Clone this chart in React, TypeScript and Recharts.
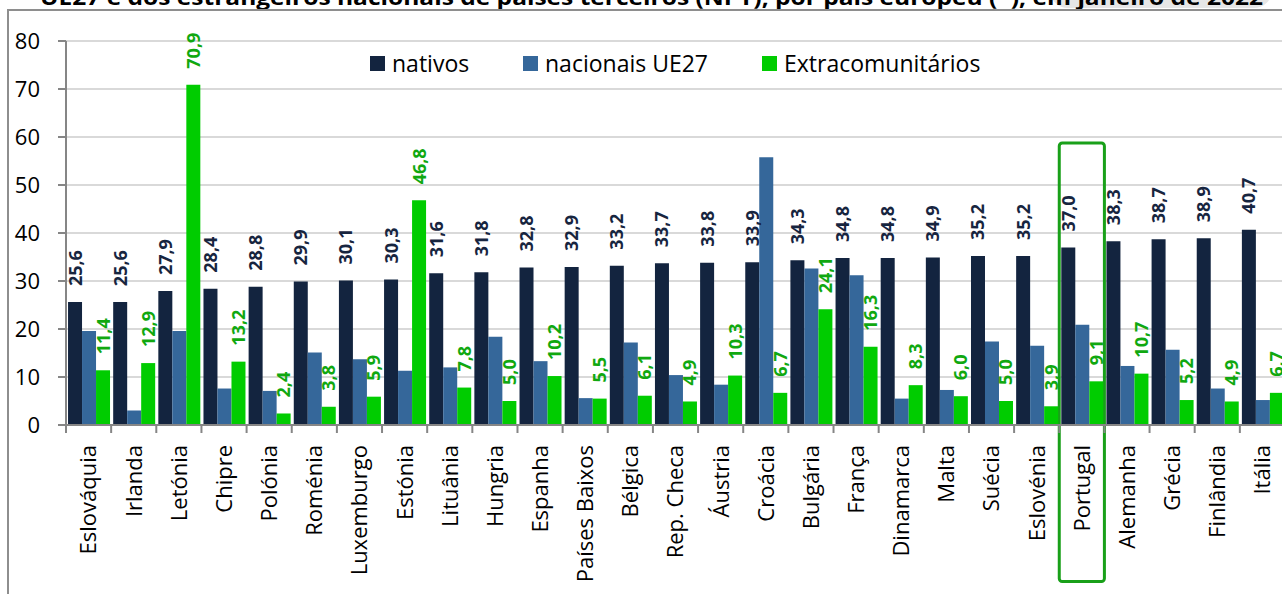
import React from 'react';
import { BarChart, Bar, XAxis, YAxis, CartesianGrid, Legend, LabelList, ReferenceArea } from 'recharts';

const countries = [
  'Eslováquia', 'Irlanda', 'Letónia', 'Chipre', 'Polónia', 'Roménia', 'Luxemburgo', 'Estónia',
  'Lituânia', 'Hungria', 'Espanha', 'Países Baixos', 'Bélgica', 'Rep. Checa', 'Áustria', 'Croácia',
  'Bulgária', 'França', 'Dinamarca', 'Malta', 'Suécia', 'Eslovénia', 'Portugal', 'Alemanha',
  'Grécia', 'Finlândia', 'Itália',
];
const nativos = [
  25.6, 25.6, 27.9, 28.4, 28.8, 29.9, 30.1, 30.3, 31.6, 31.8, 32.8, 32.9, 33.2, 33.7, 33.8, 33.9,
  34.3, 34.8, 34.8, 34.9, 35.2, 35.2, 37.0, 38.3, 38.7, 38.9, 40.7,
];
const nacionaisUE27 = [
  19.6, 3.0, 19.6, 7.6, 7.1, 15.1, 13.7, 11.3, 12.0, 18.4, 13.3, 5.6, 17.2, 10.4, 8.4, 55.8,
  32.6, 31.2, 5.5, 7.3, 17.4, 16.5, 20.9, 12.3, 15.7, 7.6, 5.2,
];
const extracomunitarios = [
  11.4, 12.9, 70.9, 13.2, 2.4, 3.8, 5.9, 46.8, 7.8, 5.0, 10.2, 5.5, 6.1, 4.9, 10.3, 6.7,
  24.1, 16.3, 8.3, 6.0, 5.0, 3.9, 9.1, 10.7, 5.2, 4.9, 6.7,
];
const yTicks = [0, 10, 20, 30, 40, 50, 60, 70, 80];
const seriesNames = ['nativos', 'nacionais UE27', 'Extracomunitários'];
const highlighted = 'Portugal';
const titleText =
  'UE27 e dos estrangeiros nacionais de países terceiros (NPT), por país europeu (*), em janeiro de 2022';

const data = countries.map((c, i) => ({
  country: c,
  nativos: nativos[i],
  ue27: nacionaisUE27[i],
  extra: extracomunitarios[i],
}));

const FONT = "'Open Sans', sans-serif";
const C_NAT = '#13243f';
const C_UE = '#35679a';
const C_EXT = '#00cc00';
const C_EXT_LABEL = '#10a810';
const C_AXIS = '#868686';

const fmt = (v: number) => v.toFixed(1).replace('.', ',');

const makeLabel = (color: string) => (props: any) => {
  const { x, y, width, value } = props;
  const cx = Number(x) + Number(width) / 2;
  const ty = Number(y) - 16;
  return (
    <text
      x={cx}
      y={ty}
      dy="0.36em"
      transform={`rotate(-90, ${cx}, ${ty})`}
      textAnchor="start"
      fill={color}
      fontFamily={FONT}
      fontWeight="bold"
      fontSize={18}
    >
      {fmt(Number(value))}
    </text>
  );
};

const XTick = (props: any) => {
  const { x, y, payload } = props;
  const off = payload && payload.offset != null ? payload.offset : 0;
  const axisY = y - 20;
  return (
    <g>
      <line x1={x - off} x2={x - off} y1={axisY} y2={axisY + 8} stroke={C_AXIS} strokeWidth={2} />
      <text
        x={x}
        y={y}
        dy="0.36em"
        transform={`rotate(-90, ${x}, ${y})`}
        textAnchor="end"
        fill="#000"
        fontFamily={FONT}
        fontSize={22}
      >
        {payload.value}
      </text>
    </g>
  );
};

const legendOffsets = [0, 153, 392];
const renderLegend = (props: any) => {
  const payload = [...(props.payload || [])].sort(
    (a: any, b: any) => seriesNames.indexOf(a.value) - seriesNames.indexOf(b.value)
  );
  return (
    <div style={{ position: 'relative', width: 640, height: 24, fontFamily: FONT, fontSize: 23, color: '#000' }}>
      {payload.map((e: any, i: number) => (
        <div
          key={i}
          style={{
            position: 'absolute',
            left: legendOffsets[i],
            top: 0,
            height: 24,
            display: 'flex',
            alignItems: 'center',
            whiteSpace: 'nowrap',
          }}
        >
          <span style={{ display: 'inline-block', width: 15, height: 15, background: e.color, marginRight: 7 }} />
          <span style={{ lineHeight: '24px' }}>{e.value}</span>
        </div>
      ))}
    </div>
  );
};

export default function App() {
  return (
    <div
      style={{
        position: 'fixed',
        left: 0,
        top: 0,
        width: 1282,
        height: 594,
        overflow: 'hidden',
        background: '#fff',
      }}
    >
      <svg width={1282} height={14} style={{ position: 'absolute', left: 0, top: 0 }}>
        <rect x={1050} y={-30} width={222} height={38} rx={18} fill="#e6e6e6" />
        <text
          x={40}
          y={5}
          textLength={1223}
          lengthAdjust="spacingAndGlyphs"
          fontFamily={FONT}
          fontWeight="bold"
          fontSize={22}
          fill="#000"
        >
          {titleText}
        </text>
      </svg>
      <div
        style={{
          position: 'absolute',
          left: 7,
          top: 9,
          width: 1400,
          height: 700,
          borderLeft: '2px solid #8e8e8e',
          borderTop: '2px solid #8e8e8e',
        }}
      />
      <div style={{ position: 'absolute', left: 0, top: 0 }}>
        <BarChart
          width={1300}
          height={594}
          data={data}
          margin={{ top: 41, right: 15, bottom: 0, left: 0 }}
          barCategoryGap="4.5%"
          barGap={0}
        >
          <CartesianGrid horizontal vertical={false} stroke="#d9d9d9" strokeWidth={2} />
          <XAxis
            dataKey="country"
            interval={0}
            height={169}
            tickSize={8}
            tickMargin={12}
            tickLine={false}
            axisLine={{ stroke: C_AXIS, strokeWidth: 2 }}
            tick={<XTick />}
          />
          <YAxis
            domain={[0, 80]}
            ticks={yTicks}
            width={66}
            tickSize={8}
            tickMargin={18}
            axisLine={{ stroke: C_AXIS, strokeWidth: 2 }}
            tickLine={{ stroke: C_AXIS, strokeWidth: 2 }}
            tick={{ fill: '#000', fontSize: 22, fontFamily: FONT }}
            interval={0}
          />
          <Legend
            layout="horizontal"
            verticalAlign="middle"
            align="center"
            content={renderLegend}
            wrapperStyle={{ top: 51, left: 370, width: 640, height: 24 }}
          />
          <Bar dataKey="nativos" name={seriesNames[0]} fill={C_NAT} isAnimationActive={false}>
            <LabelList dataKey="nativos" content={makeLabel('#17253f')} />
          </Bar>
          <Bar dataKey="ue27" name={seriesNames[1]} fill={C_UE} isAnimationActive={false} />
          <Bar dataKey="extra" name={seriesNames[2]} fill={C_EXT} isAnimationActive={false}>
            <LabelList dataKey="extra" content={makeLabel(C_EXT_LABEL)} />
          </Bar>
          <ReferenceArea
            x1={highlighted}
            x2={highlighted}
            y1={-32.6}
            y2={58.75}
            ifOverflow="visible"
            fill="none"
            fillOpacity={0}
            stroke="#19a019"
            strokeWidth={3}
            radius={3}
          />
        </BarChart>
      </div>
    </div>
  );
}
